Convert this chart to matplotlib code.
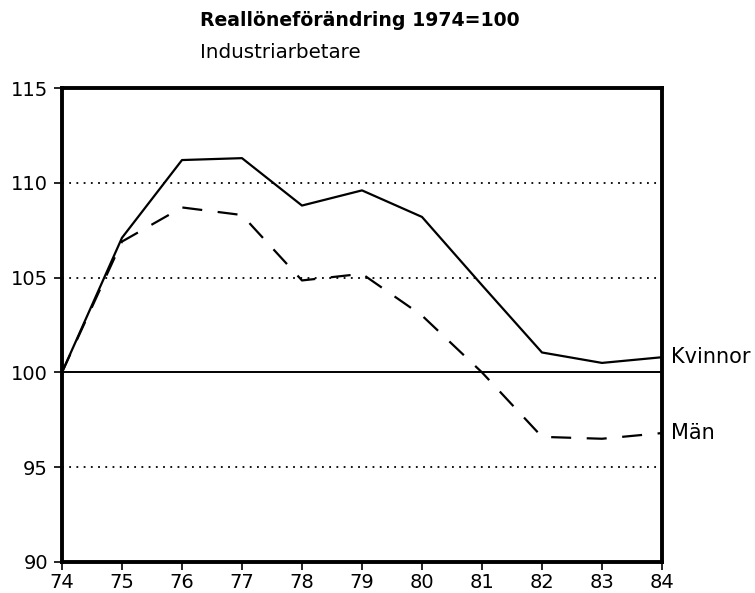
import matplotlib
matplotlib.use("Agg")
import matplotlib.pyplot as plt

plt.rcParams['font.family'] = ['DejaVu Sans']

years = [74, 75, 76, 77, 78, 79, 80, 81, 82, 83, 84]
kvinnor = [100, 107.1, 111.2, 111.3, 108.8, 109.6, 108.2, 104.6, 101.05, 100.5, 100.8]
man = [100, 106.9, 108.7, 108.3, 104.85, 105.2, 103.0, 100.0, 96.6, 96.5, 96.8]
yticks = [90, 95, 100, 105, 110, 115]
dotted_levels = [95, 105, 110]

fig = plt.figure(figsize=(7.55, 5.93), dpi=100)
ax = fig.add_axes([0.0821, 0.0523, 0.7947, 0.7993])

# reference lines
for lvl in dotted_levels:
    ax.axhline(lvl, color='black', lw=1.3, linestyle=(0, (1, 3)), zorder=1)
ax.axhline(100, color='black', lw=1.4, zorder=1)

ax.plot(years, kvinnor, color='black', lw=1.6, zorder=3)
ax.plot(years, man, color='black', lw=1.6, dashes=(9, 7), zorder=3)

ax.set_xlim(74, 84)
ax.set_ylim(90, 115)
ax.set_xticks(years)
ax.set_xticklabels([str(y) for y in years])
ax.set_yticks(yticks)
ax.tick_params(axis='both', labelsize=14, length=6, width=1.2, direction='out')
ax.tick_params(axis='y', pad=4)
ax.tick_params(axis='x', pad=2)

for s in ax.spines.values():
    s.set_linewidth(2.8)

# end labels
ax.text(84.15, kvinnor[-1], 'Kvinnor', fontsize=15, va='center', ha='left', clip_on=False)
ax.text(84.15, man[-1], 'Män', fontsize=15, va='center', ha='left', clip_on=False)

fig.text(200 / 755, 1 - 20 / 593, 'Reallöneförändring 1974=100', fontsize=13.6,
         fontweight='bold', va='center', ha='left')
fig.text(200 / 755, 1 - 52 / 593, 'Industriarbetare', fontsize=14.3, va='center', ha='left')

fig.savefig('out.png', dpi=100)
